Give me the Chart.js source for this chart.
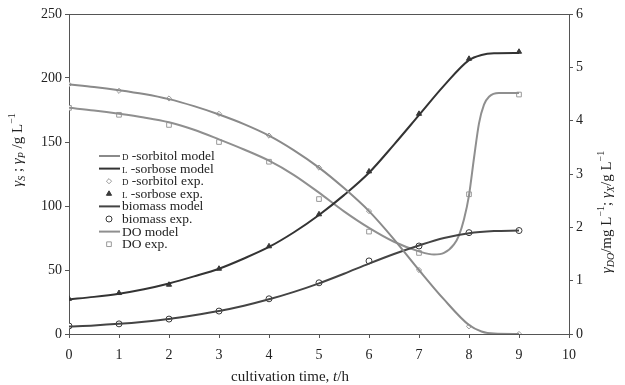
<!DOCTYPE html>
<html>
<head>
<meta charset="utf-8">
<script src="https://cdn.jsdelivr.net/npm/chart.js@4.4.1/dist/chart.umd.min.js"></script>
<style>
  html, body { margin: 0; padding: 0; background: #fff; }
  #wrap { width: 625px; height: 385px; }
</style>
</head>
<body>
<div id="wrap"><canvas id="myChart" width="625" height="385"></canvas></div>
<script>
// experimental points (every hour)
const timeExp = [0, 1, 2, 3, 4, 5, 6, 7, 8, 9];
const sorbitolExp = [195, 190, 184, 172, 155, 130, 96, 50, 6, 0];
const sorboseExp = [27.5, 32, 38.5, 51, 68.5, 93.5, 127, 172, 215, 220.5];
const biomassExp = [0.15, 0.19, 0.28, 0.43, 0.66, 0.96, 1.37, 1.65, 1.90, 1.94];
const doExp = [4.24, 4.11, 3.92, 3.60, 3.23, 2.53, 1.92, 1.52, 2.62, 4.49];

// model curves
const sorbitolModelT = [0, 0.5, 1, 1.5, 2, 2.5, 3, 3.5, 4, 4.5, 5, 5.5, 6, 6.5, 7, 7.5, 8, 8.25, 8.5, 9];
const sorbitolModel = [195, 193, 190.5, 187.5, 183.5, 178, 171.5, 164, 155, 143.5, 130, 114, 96, 74, 50, 27, 7, 2, 0.3, 0];
const sorboseModelT = [0, 0.5, 1, 1.5, 2, 2.5, 3, 3.5, 4, 4.5, 5, 5.5, 6, 6.5, 7, 7.5, 8, 8.25, 8.5, 9];
const sorboseModel = [27, 29, 31.5, 35, 39.5, 45, 51, 59, 68, 79.5, 93, 108.5, 126, 148, 171, 194, 214, 218, 219.3, 219.5];
const biomassModelT = [0, 0.5, 1, 1.5, 2, 2.5, 3, 3.5, 4, 4.5, 5, 5.5, 6, 6.5, 7, 7.5, 8, 8.5, 9];
const biomassModel = [0.14, 0.16, 0.19, 0.23, 0.28, 0.35, 0.43, 0.53, 0.65, 0.79, 0.95, 1.13, 1.32, 1.50, 1.66, 1.80, 1.89, 1.93, 1.94];
const doModelT = [0, 0.5, 1, 1.5, 2, 2.5, 3, 3.5, 4, 4.5, 5, 5.5, 6, 6.5, 7, 7.3, 7.5, 7.7, 7.8, 7.9, 8, 8.1, 8.2, 8.3, 8.4, 8.6, 9];
const doModel = [4.24, 4.19, 4.13, 4.06, 3.97, 3.83, 3.65, 3.46, 3.25, 2.98, 2.65, 2.30, 1.99, 1.73, 1.55, 1.49, 1.52, 1.68, 1.85, 2.15, 2.6, 3.3, 3.95, 4.3, 4.45, 4.52, 4.52];

const xTicks = [0, 1, 2, 3, 4, 5, 6, 7, 8, 9, 10];

const toPoints = (xs, ys) => xs.map((x, i) => ({ x: x, y: ys[i] }));

const lineSet = (label, xs, ys, color, axis) => ({
    label: label,
    data: toPoints(xs, ys),
    yAxisID: axis,
    borderColor: color,
    borderWidth: 2,
    pointRadius: 0,
    showLine: true,
    fill: false,
    cubicInterpolationMode: "monotone",
});

const markSet = (label, ys, style, color, fillColor, radius, axis) => ({
    label: label,
    data: toPoints(timeExp, ys),
    yAxisID: axis,
    showLine: false,
    pointStyle: style,
    pointRadius: radius,
    pointBorderWidth: 1,
    pointBorderColor: color,
    pointBackgroundColor: fillColor,
    borderColor: color,
    backgroundColor: fillColor,
});

const datasets = [
    lineSet("D-sorbitol model", sorbitolModelT, sorbitolModel, "#8a8a8a", "y"),
    lineSet("L-sorbose model", sorboseModelT, sorboseModel, "#333333", "y"),
    lineSet("biomass model", biomassModelT, biomassModel, "#444444", "y2"),
    lineSet("DO model", doModelT, doModel, "#8f8f8f", "y2"),
    markSet("D-sorbitol exp.", sorbitolExp, "rectRot", "#9a9a9a", "#ffffff", 2.6, "y"),
    markSet("L-sorbose exp.", sorboseExp, "triangle", "#3a3a3a", "#3a3a3a", 3, "y"),
    markSet("biomass exp.", biomassExp, "circle", "#3a3a3a", "#ffffff", 3, "y2"),
    markSet("DO exp.", doExp, "rect", "#999999", "#ffffff", 3.3, "y2"),
];

const serif = "'Liberation Serif', 'DejaVu Serif', serif";
const axisColor = "#555555";

// draw a run of text pieces (sub/superscripts)
const drawRich = (ctx, parts, x, y) => {
    let cx = x;
    parts.forEach((p) => {
        ctx.font = p.font;
        ctx.fillText(p.t, cx, y + (p.dy || 0));
        cx += ctx.measureText(p.t).width;
    });
};
const richWidth = (ctx, parts) => {
    let w = 0;
    parts.forEach((p) => {
        ctx.font = p.font;
        w += ctx.measureText(p.t).width;
    });
    return w;
};

const big = "15px " + serif;
const bigIt = "italic 15px " + serif;
const small = "10px " + serif;
const smallIt = "italic 10px " + serif;

const leftTitle = [
    { t: "γ", font: bigIt }, { t: "S", font: smallIt, dy: 3 },
    { t: " ; ", font: big },
    { t: "γ", font: bigIt }, { t: "P", font: smallIt, dy: 3 },
    { t: " /g L", font: big }, { t: "−1", font: small, dy: -7 },
];
const rightTitle = [
    { t: "γ", font: bigIt }, { t: "DO", font: smallIt, dy: 3 },
    { t: "/mg L", font: big }, { t: "−1", font: small, dy: -7 },
    { t: "; ", font: big },
    { t: "γ", font: bigIt }, { t: "X", font: smallIt, dy: 3 },
    { t: "/g L", font: big }, { t: "−1", font: small, dy: -7 },
];
const bottomTitle = [
    { t: "cultivation time, ", font: big },
    { t: "t", font: bigIt },
    { t: "/h", font: big },
];

const legendRows = [
    { sc: "D", rest: " -sorbitol model", ds: 0 },
    { sc: "L", rest: " -sorbose model", ds: 1 },
    { sc: "D", rest: " -sorbitol exp.", ds: 4 },
    { sc: "L", rest: " -sorbose exp.", ds: 5 },
    { sc: "", rest: "biomass model", ds: 2 },
    { sc: "", rest: "biomass exp.", ds: 6 },
    { sc: "", rest: "DO model", ds: 3 },
    { sc: "", rest: "DO exp.", ds: 7 },
];

const decorPlugin = {
    id: "decor",
    afterDraw(chart) {
        const ctx = chart.ctx;
        const area = chart.chartArea;
        ctx.save();
        // top frame line
        ctx.strokeStyle = axisColor;
        ctx.lineWidth = 1;
        ctx.beginPath();
        ctx.moveTo(area.left, area.top + 0.5);
        ctx.lineTo(area.right, area.top + 0.5);
        ctx.stroke();

        ctx.fillStyle = "#222";
        ctx.textBaseline = "alphabetic";

        // left title
        ctx.save();
        ctx.translate(22, 150);
        ctx.rotate(-Math.PI / 2);
        drawRich(ctx, leftTitle, -richWidth(ctx, leftTitle) / 2, 0);
        ctx.restore();

        // right title
        ctx.save();
        ctx.translate(611, 212);
        ctx.rotate(-Math.PI / 2);
        drawRich(ctx, rightTitle, -richWidth(ctx, rightTitle) / 2, 0);
        ctx.restore();

        // bottom title
        drawRich(ctx, bottomTitle, 290 - richWidth(ctx, bottomTitle) / 2, 381);

        // legend
        legendRows.forEach((row, i) => {
            const y = 156 + i * 12.6;
            const ds = chart.data.datasets[row.ds];
            if (ds.showLine) {
                ctx.strokeStyle = ds.borderColor;
                ctx.lineWidth = 2;
                ctx.beginPath();
                ctx.moveTo(99, y);
                ctx.lineTo(120, y);
                ctx.stroke();
            } else {
                ctx.strokeStyle = ds.pointBorderColor;
                ctx.fillStyle = ds.pointBackgroundColor;
                ctx.lineWidth = 1;
                Chart.helpers.drawPoint(ctx, {
                    pointStyle: ds.pointStyle,
                    radius: ds.pointRadius,
                    borderWidth: 1,
                    rotation: 0,
                }, 109, y);
            }
            ctx.fillStyle = "#222";
            let x = 122;
            if (row.sc) {
                ctx.font = "9px " + serif;
                ctx.fillText(row.sc, x, y + 4);
                x += ctx.measureText(row.sc).width;
            }
            ctx.font = "13.5px " + serif;
            ctx.fillText(row.rest, x, y + 4);
        });
        ctx.restore();
    },
};

const tickFont = { family: serif, size: 14 };

var ctx = document.getElementById("myChart").getContext("2d");
var myChart = new Chart(ctx, {
    type: "scatter",
    data: { datasets: datasets },
    options: {
        responsive: false,
        animation: false,
        layout: { padding: { top: 14, left: 0, right: 0, bottom: 0 } },
        plugins: {
            legend: { display: false },
            tooltip: { enabled: false },
        },
        scales: {
            x: {
                type: "linear",
                min: 0,
                max: 10,
                afterBuildTicks: (scale) => {
                    scale.ticks = xTicks.map((v) => ({ value: v }));
                },
                afterFit: (scale) => { scale.height = 51; },
                grid: { drawOnChartArea: false, tickLength: 4, color: axisColor },
                border: { display: true, color: axisColor },
                ticks: { font: tickFont, color: "#222", padding: 9, maxRotation: 0 },
            },
            y: {
                position: "left",
                min: 0,
                max: 250,
                ticks: { stepSize: 50, font: tickFont, color: "#222", padding: 3 },
                afterFit: (scale) => { scale.width = 69; },
                grid: { drawOnChartArea: false, tickLength: 4, color: axisColor },
                border: { display: true, color: axisColor },
            },
            y2: {
                position: "right",
                min: 0,
                max: 6,
                ticks: { stepSize: 1, font: tickFont, color: "#222", padding: 3 },
                afterFit: (scale) => { scale.width = 56; },
                grid: { drawOnChartArea: false, tickLength: 4, color: axisColor },
                border: { display: true, color: axisColor },
            },
        },
    },
    plugins: [decorPlugin],
});
</script>
</body>
</html>
